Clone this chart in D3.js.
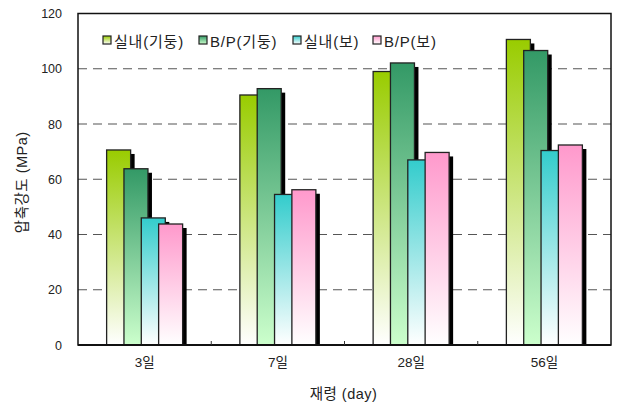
<!DOCTYPE html>
<html>
<head>
<meta charset="utf-8">
<script src="https://cdn.jsdelivr.net/npm/d3@7/dist/d3.min.js"></script>
<style>
  body { margin: 0; background: #fff; }
  text { font-family: "Liberation Sans", "Noto Sans CJK KR", sans-serif; fill: #222; }
</style>
</head>
<body>
<div id="root"></div>
<script>
const categories = ["3일", "7일", "28일", "56일"];
const seriesNames = ["실내(기둥)", "B/P(기둥)", "실내(보)", "B/P(보)"];
const indoorColumn = [70.6, 90.5, 99.0, 110.6];
const bpColumn = [63.8, 92.8, 102.1, 106.6];
const indoorBeam = [46.0, 54.5, 67.0, 70.4];
const bpBeam = [43.8, 56.2, 69.7, 72.4];
const yTicks = [0, 20, 40, 60, 80, 100, 120];

const seriesValues = [indoorColumn, bpColumn, indoorBeam, bpBeam];
const gradients = [
  ["#99cc00", "#ffffff"],
  ["#339966", "#ccffcc"],
  ["#33cccc", "#ffffff"],
  ["#ff99cc", "#ffffff"]
];

const W = 619, H = 407,
    margin = {top: 13.5, right: 8, bottom: 62, left: 78},
    width = W - margin.left - margin.right,
    height = H - margin.top - margin.bottom;

const svg = d3.select("#root").append("svg")
    .attr("width", W)
    .attr("height", H);

const defs = svg.append("defs");
gradients.forEach((g, i) => {
  const lg = defs.append("linearGradient")
      .attr("id", "grad" + i)
      .attr("x1", 0).attr("y1", 0).attr("x2", 0).attr("y2", 1);
  lg.append("stop").attr("offset", "0%").attr("stop-color", g[0]);
  lg.append("stop").attr("offset", "100%").attr("stop-color", g[1]);
});
defs.append("clipPath").attr("id", "plotClip")
  .append("rect").attr("width", width).attr("height", height);

const g = svg.append("g")
    .attr("transform", "translate(" + margin.left + "," + margin.top + ")");

const x0 = d3.scaleBand().domain(categories).range([0, width]);
const barW = 24;
const xs = d3.scalePoint().domain(seriesNames).range([0, 52]);
const groupOffset = (x0.bandwidth() - (52 + barW)) / 2;

const y = d3.scaleLinear().domain([0, 120]).range([height, 0]);

// grid
g.append("g")
  .selectAll("line")
  .data(yTicks.filter(d => d > 0 && d < 120))
  .enter().append("line")
  .attr("x1", 0).attr("x2", width)
  .attr("y1", d => y(d)).attr("y2", d => y(d))
  .attr("stroke", "#555")
  .attr("stroke-width", 1.2)
  .attr("stroke-dasharray", "9,6");

// bars
const plot = g.append("g").attr("clip-path", "url(#plotClip)");
categories.forEach((c, ci) => {
  seriesNames.forEach((s, si) => {
    const v = seriesValues[si][ci];
    const bx = x0(c) + groupOffset + xs(s);
    plot.append("rect")
      .attr("x", bx + 4)
      .attr("y", y(v) + 4)
      .attr("width", barW)
      .attr("height", height - y(v))
      .attr("fill", "#000");
    plot.append("rect")
      .attr("x", bx)
      .attr("y", y(v))
      .attr("width", barW)
      .attr("height", height - y(v))
      .attr("fill", "url(#grad" + si + ")")
      .attr("stroke", "#222")
      .attr("stroke-width", 1.3);
  });
});

// frame
g.append("rect")
  .attr("width", width).attr("height", height)
  .attr("fill", "none").attr("stroke", "#111").attr("stroke-width", 1.5);
g.append("line")
  .attr("x1", 0).attr("x2", width)
  .attr("y1", height).attr("y2", height)
  .attr("stroke", "#111").attr("stroke-width", 2);

// x ticks between categories
g.append("g")
  .selectAll("line")
  .data(categories.slice(1))
  .enter().append("line")
  .attr("x1", d => x0(d)).attr("x2", d => x0(d))
  .attr("y1", height).attr("y2", height - 4)
  .attr("stroke", "#333").attr("stroke-width", 1);

// y axis labels
const yAxis = d3.axisLeft(y).tickValues(yTicks).tickSize(0).tickPadding(16);
const ya = g.append("g").call(yAxis);
ya.select(".domain").remove();
ya.selectAll("text").style("font-size", "12.5px").attr("fill", "#222")
  .style("font-family", "\"Liberation Sans\", sans-serif");

// x axis labels
const xAxis = d3.axisBottom(x0).tickSize(0).tickPadding(12);
const xa = g.append("g").attr("transform", "translate(0," + height + ")").call(xAxis);
xa.select(".domain").remove();
xa.selectAll("text").style("font-size", "13.5px").attr("fill", "#222");

// titles
svg.append("text")
  .attr("x", margin.left + width / 2 - 1)
  .attr("y", 399)
  .attr("text-anchor", "middle")
  .style("font-size", "14.5px")
  .style("letter-spacing", "0.5px")
  .text("재령 (day)");

svg.append("text")
  .attr("transform", "translate(27," + (margin.top + height / 2 + 3) + ") rotate(-90)")
  .attr("text-anchor", "middle")
  .style("font-size", "14.5px")
  .style("letter-spacing", "0.5px")
  .text("압축강도 (MPa)");

// legend
const legendX = [103, 199, 293, 373];
const legend = svg.append("g");
seriesNames.forEach((s, i) => {
  legend.append("rect")
    .attr("x", legendX[i]).attr("y", 36)
    .attr("width", 8).attr("height", 8)
    .attr("fill", "url(#grad" + i + ")")
    .attr("stroke", "#222").attr("stroke-width", 1.2);
  legend.append("text")
    .attr("x", legendX[i] + 11)
    .attr("y", 46.5)
    .style("font-size", "15px")
    .style("letter-spacing", "0.8px")
    .text(s);
});
</script>
</body>
</html>
